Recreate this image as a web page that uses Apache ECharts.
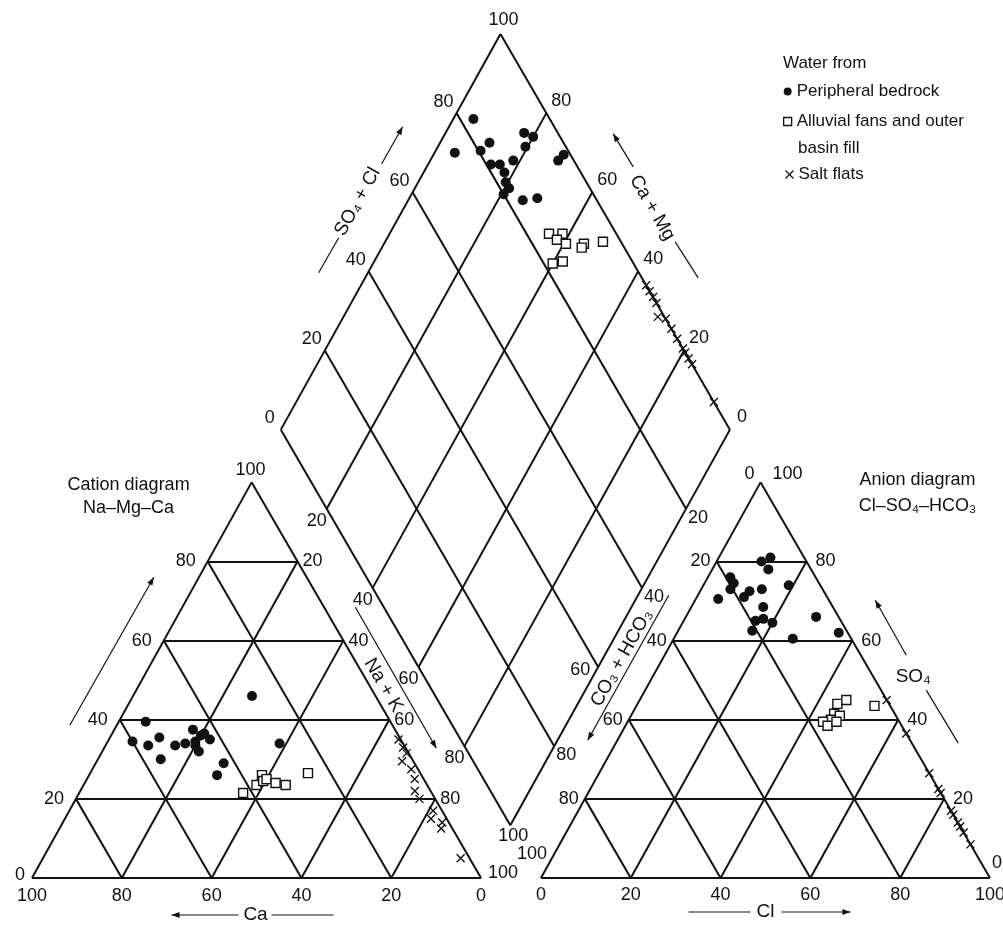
<!DOCTYPE html>
<html>
<head>
<meta charset="utf-8">
<script src="https://cdn.jsdelivr.net/npm/echarts@6/dist/echarts.min.js"></script>
<style>
  html, body { margin: 0; padding: 0; background: #fff; }
  #chart { width: 1003px; height: 926px; }
</style>
</head>
<body>
<div id="chart"></div>
<script>
// Piper diagram: cation triangle (left), anion triangle (right), combined diamond (top)
const FONT = '"Liberation Sans", Arial, Helvetica, sans-serif';
const INK = '#111111';

const BEDROCK = 'Peripheral bedrock';
const ALLUVIAL = 'Alluvial fans and outer basin fill';
const SALT = 'Salt flats';

// Cation shares, percent of total meq: [Ca, Mg, Na + K]
const bedrockCations = [
  [54.5, 39.5, 6], [60, 34.5, 5.5], [57, 33.5, 9.5], [53.5, 35.5, 11], [56, 30, 14],
  [51, 33.5, 15.5], [48.5, 34, 17.5], [45, 37.5, 17.5], [46.5, 33.5, 20], [46.5, 32, 21.5],
  [44, 36, 20], [43, 36.5, 20.5], [42.5, 35, 22.5], [46, 34.5, 19.5], [42.5, 29, 28.5],
  [45.5, 26, 28.5], [27.5, 46, 26.5], [27.5, 34, 38.5]
];
const alluvialCations = [
  [42, 21.5, 36.5], [35.5, 26, 38.5], [38, 23.5, 38.5], [36, 24.5, 39.5],
  [35, 25, 40], [33.5, 24, 42.5], [31.5, 23.5, 45], [25, 26.5, 48.5]
];
const saltCations = [
  [0.5, 35, 64.5], [0.5, 33, 66.5], [0.5, 31.5, 68], [2.5, 29.5, 68], [1.5, 27.5, 71],
  [2, 25, 73], [3.5, 22, 74.5], [3.5, 20, 76.5], [2, 17, 81], [3.5, 15, 81.5],
  [1.5, 14, 84.5], [2.5, 12.5, 85], [2, 5, 93]
];

// Anion shares, percent of total meq: [Cl, SO4, CO3 + HCO3]
const bedrockAnions = [
  [10, 80, 10], [11.5, 81, 7.5], [12.5, 78, 9.5], [5, 76, 19], [6.5, 74.5, 19],
  [6.5, 73, 20.5], [5, 70.5, 24.5], [10.5, 71, 18.5], [11, 72.5, 16.5], [13.5, 73, 13.5],
  [19, 74, 7], [16, 68.5, 15.5], [16, 65, 19], [17.5, 65.5, 17], [20, 64.5, 15.5],
  [16.5, 62.5, 21], [29, 66, 5], [26.5, 60.5, 13], [36, 62, 2]
];
const alluvialAnions = [
  [44.5, 44, 11.5], [46, 45, 9], [53, 43.5, 3.5], [45, 41.5, 13.5], [46.5, 41, 12.5],
  [45, 40, 15], [43.5, 39.5, 17], [45, 38.5, 16.5], [46.5, 39.5, 14]
];
const saltAnions = [
  [55, 45, 0], [63.5, 36.5, 0], [73.5, 26.5, 0], [77.5, 22.5, 0], [78.5, 21.5, 0],
  [83, 17, 0], [84, 16, 0], [86, 14, 0], [87, 13, 0], [88.5, 11.5, 0], [91.5, 8.5, 0]
];

// Diamond field: [Na + K, SO4 + Cl], percent
const bedrockDiamond = [
  [4.5, 83], [4.5, 74.5], [11, 83.5], [10, 80.5], [14, 81], [16, 83], [18, 83],
  [18.5, 86.5], [19.5, 82], [21, 82], [20.5, 80], [17.5, 92.5], [20, 94], [19.5, 91],
  [28.5, 96.5], [29, 98.5], [25.5, 83.5], [28.5, 87]
];
const alluvialDiamond = [
  [35.5, 85], [38.5, 88], [38, 86], [40.5, 87.5], [44.5, 91.5],
  [44.5, 90.5], [48.5, 96], [40, 82], [42, 84.5]
];
const saltDiamond = [
  [63.5, 100], [65, 100], [66.5, 100], [68, 100], [70, 98.5], [72, 100], [74.5, 100],
  [77, 100], [79.5, 100], [80.5, 100], [82, 100], [83.5, 100], [93, 100]
];

const tickValues = [0, 20, 40, 60, 80, 100];
const gridSteps = [0, 20, 40, 60, 80];

// Layout in side-percent units: each triangle is 100 wide, 100 "levels" tall
const GAP = 13.33;   // spacing between the two triangles
const LEAN = 0.011;  // slight lean of the printed frame
const SPAN = 200 + GAP;

function place(x, h) { return [x - LEAN * h, h]; }
function cationXY(ca, mg, nak) { return place(nak + mg / 2, mg); }
function anionXY(cl, so4, hco3) { return place(100 + GAP + cl + so4 / 2, so4); }
function diamondXY(nak, so4cl) {
  return place(50 + GAP / 2 + (so4cl + nak) / 2, 100 + GAP + so4cl - nak);
}

// Frame and ruling lines
const frame = [];
const seg = (a, b) => frame.push({ coords: [a, b] });
gridSteps.forEach(k => {
  seg(cationXY(100 - k, k, 0), cationXY(0, k, 100 - k));
  seg(cationXY(k, 100 - k, 0), cationXY(k, 0, 100 - k));
  seg(cationXY(100 - k, 0, k), cationXY(0, 100 - k, k));
  seg(anionXY(100 - k, k, 0), anionXY(0, k, 100 - k));
  seg(anionXY(k, 100 - k, 0), anionXY(k, 0, 100 - k));
  seg(anionXY(100 - k, 0, k), anionXY(0, 100 - k, k));
});
tickValues.forEach(k => {
  seg(diamondXY(0, k), diamondXY(100, k));
  seg(diamondXY(k, 0), diamondXY(k, 100));
});

// Scale numbers along every edge
const tickItems = [];
function tick(pt, k, align, dx, dy) {
  tickItems.push({ value: pt, label: { formatter: String(k), align: align, offset: [dx, dy] } });
}
tickValues.forEach(k => {
  // cation triangle: Mg on the left side, Ca along the base, Na + K on the right side
  if (k === 0) tick(cationXY(100, 0, 0), k, 'right', -7, -3);
  else if (k === 100) tick(cationXY(0, 100, 0), k, 'center', -1, -12);
  else tick(cationXY(100 - k, k, 0), k, 'right', -12, 0);
  tick(cationXY(k, 0, 100 - k), k, 'center', 0, 18);
  if (k === 100) tick(cationXY(0, 0, 100), k, 'left', 7, -5);
  else if (k > 0) tick(cationXY(0, 100 - k, k), k, 'left', 5, 0);

  // anion triangle: CO3 + HCO3 on the left side, Cl along the base, SO4 on the right side
  if (k === 0) tick(anionXY(0, 100, 0), k, 'right', -6, -8);
  else if (k === 100) tick(anionXY(0, 0, 100), k, 'center', -9, -24);
  else tick(anionXY(0, 100 - k, k), k, 'right', -6, 0);
  tick(anionXY(k, 0, 100 - k), k, 'center', 0, 17);
  if (k === 100) tick(anionXY(0, 100, 0), k, 'left', 12, -8);
  else if (k === 0) tick(anionXY(100, 0, 0), k, 'left', 2, -15);
  else tick(anionXY(100 - k, k, 0), k, 'left', 9, 0);

  // diamond: SO4 + Cl upper left, Ca + Mg upper right, Na + K lower left, CO3 + HCO3 lower right
  if (k === 0) tick(diamondXY(0, k), k, 'center', -11, -12);
  else if (k === 100) tick(diamondXY(0, k), k, 'center', 3, -14);
  else tick(diamondXY(0, k), k, 'right', -3, -11);
  if (k === 0) tick(diamondXY(100, 100), k, 'left', 7, -13);
  else if (k < 100) tick(diamondXY(100 - k, 100), k, 'left', 5, -12);
  if (k === 100) tick(diamondXY(k, 0), k, 'center', 3, 11);
  else if (k > 0) tick(diamondXY(k, 0), k, 'center', -10, 12);
  if (k === 60) tick(diamondXY(100, 100 - k), k, 'right', -8, 3);
  else if (k > 0 && k < 100) tick(diamondXY(100, 100 - k), k, 'left', 2, 9);
});

function samples(cat, an, dia) {
  return cat.map(r => cationXY(r[0], r[1], r[2]))
    .concat(an.map(r => anionXY(r[0], r[1], r[2])))
    .concat(dia.map(r => diamondXY(r[0], r[1])));
}

const CROSS = 'path://M0,0L10,10M10,0L0,10';
const chart = echarts.init(document.getElementById('chart'), null, { renderer: 'canvas' });

chart.setOption({
  animation: false,
  backgroundColor: '#fff',
  textStyle: { fontFamily: FONT, color: INK },
  grid: { left: 32, top: 34, width: 958, height: 844, outerBoundsMode: 'none', containLabel: false },
  xAxis: { type: 'value', min: 0, max: SPAN, show: false },
  yAxis: { type: 'value', min: 0, max: SPAN, show: false },
  legend: [
    {
      orient: 'vertical', left: 783, top: 78, padding: 0, itemGap: 3,
      itemWidth: 8, itemHeight: 8, selectedMode: false,
      textStyle: { fontSize: 17, color: INK, fontFamily: FONT, lineHeight: 27 },
      formatter: n => (n === ALLUVIAL ? 'Alluvial fans and outer' : n),
      data: [
        { name: BEDROCK, icon: 'circle', itemStyle: { color: INK, borderWidth: 0, opacity: 1 } },
        { name: ALLUVIAL, icon: 'rect', itemStyle: { color: '#fff', borderColor: INK, borderWidth: 1.3, opacity: 1 } }
      ]
    },
    {
      orient: 'vertical', left: 783, top: 161, padding: 0,
      itemWidth: 8, itemHeight: 8, selectedMode: false,
      textStyle: { fontSize: 17, color: INK, fontFamily: FONT, lineHeight: 27 },
      data: [
        { name: SALT, icon: CROSS, itemStyle: { color: 'none', borderColor: INK, borderWidth: 1.3, opacity: 1 } }
      ]
    }
  ],
  series: [
    {
      type: 'lines', coordinateSystem: 'cartesian2d', polyline: false, silent: true, clip: false,
      data: frame, z: 1,
      lineStyle: { color: INK, width: 2, opacity: 1, curveness: 0 }
    },
    {
      type: 'scatter', silent: true, clip: false, symbol: 'circle', symbolSize: 0, z: 2,
      itemStyle: { opacity: 1 },
      data: tickItems,
      label: {
        show: true, position: 'inside', verticalAlign: 'middle', fontSize: 18,
        fontFamily: FONT, color: INK, textBorderWidth: 0, opacity: 1
      }
    },
    {
      name: BEDROCK, type: 'scatter', clip: false, symbol: 'circle', symbolSize: 10, z: 5,
      itemStyle: { color: INK, opacity: 1 },
      data: samples(bedrockCations, bedrockAnions, bedrockDiamond)
    },
    {
      name: ALLUVIAL, type: 'scatter', clip: false, symbol: 'rect', symbolSize: 9, z: 5,
      itemStyle: { color: '#fff', borderColor: INK, borderWidth: 1.4, opacity: 1 },
      data: samples(alluvialCations, alluvialAnions, alluvialDiamond)
    },
    {
      name: SALT, type: 'scatter', clip: false, symbol: CROSS, symbolSize: 8, z: 5,
      itemStyle: { color: 'none', borderColor: INK, borderWidth: 1.4, opacity: 1 },
      data: samples(saltCations, saltAnions, saltDiamond)
    }
  ]
});

// Axis titles, captions and direction arrows, anchored to points of the frame
const P = pt => chart.convertToPixel({ gridIndex: 0 }, pt);
function rel(pt, dx, dy) { const p = P(pt); return [p[0] + dx, p[1] + dy]; }
function edgeAngle(a, b) { const p = P(a), q = P(b); return Math.atan2(p[1] - q[1], q[0] - p[0]); }

const els = [];
function label(pos, str, size, rot, align) {
  els.push({
    type: 'text', x: pos[0], y: pos[1], rotation: rot || 0, silent: true,
    style: {
      text: str, fontSize: size, fontFamily: FONT, fill: INK,
      align: align || 'center', textAlign: align || 'center',
      verticalAlign: 'middle', textVerticalAlign: 'middle'
    }
  });
}
function stroke(a, b, head) {
  els.push({
    type: 'line', silent: true,
    shape: { x1: a[0], y1: a[1], x2: b[0], y2: b[1] },
    style: { stroke: INK, lineWidth: 1.2 }
  });
  if (head) {
    const ang = Math.atan2(b[1] - a[1], b[0] - a[0]);
    const L = 8, W = 3;
    const bx = b[0] - L * Math.cos(ang), by = b[1] - L * Math.sin(ang);
    const nx = -Math.sin(ang) * W, ny = Math.cos(ang) * W;
    els.push({
      type: 'polygon', silent: true,
      shape: { points: [[b[0], b[1]], [bx + nx, by + ny], [bx - nx, by - ny]] },
      style: { fill: INK }
    });
  }
}

// SO4 + Cl along the upper left side of the diamond
const dUL = diamondXY(0, 50);
label(rel(dUL, -33, -30), 'SO\u2084 + Cl', 19, edgeAngle(diamondXY(0, 0), diamondXY(0, 100)));
stroke(rel(dUL, -72, 41), rel(dUL, -52, 6), false);
stroke(rel(dUL, -9, -68), rel(dUL, 12, -105), true);

// Ca + Mg along the upper right side of the diamond
const dUR = diamondXY(50, 100);
label(rel(dUR, 37, -24), 'Ca + Mg', 19, edgeAngle(diamondXY(0, 100), diamondXY(100, 100)));
stroke(rel(dUR, 18, -65), rel(dUR, -2, -98), true);
stroke(rel(dUR, 60, 10), rel(dUR, 83, 46), false);

// Na + K beside the right side of the cation triangle
const cR = cationXY(0, 50, 50);
label(rel(cR, 17, 5), 'Na + K', 19, edgeAngle(cationXY(0, 100, 0), cationXY(0, 0, 100)));
stroke(rel(cR, -11, -73), rel(cR, 70, 68), true);

// CO3 + HCO3 beside the left side of the anion triangle
const aL = anionXY(0, 50, 50);
label(rel(aL, -29, -22), 'CO\u2083 + HCO\u2083', 19, edgeAngle(anionXY(0, 0, 100), anionXY(0, 100, 0)));
stroke(rel(aL, 18, -85), rel(aL, -63, 60), true);

// SO4 beside the right side of the anion triangle
const aR = anionXY(50, 50, 0);
label(rel(aR, 38, -3), 'SO\u2084', 19);
stroke(rel(aR, 31, -25), rel(aR, 0, -80), true);
stroke(rel(aR, 51, 10), rel(aR, 83, 63), false);

// Ca under the cation base
const cB = cationXY(50, 0, 50);
label(rel(cB, -1, 37), 'Ca', 19);
stroke(rel(cB, -18, 37), rel(cB, -85, 37), true);
stroke(rel(cB, 15, 37), rel(cB, 77, 37), false);

// Cl under the anion base
const aB = anionXY(50, 0, 50);
label(rel(aB, 0, 34), 'Cl', 19);
stroke(rel(aB, -77, 34), rel(aB, -15, 34), false);
stroke(rel(aB, 16, 34), rel(aB, 85, 34), true);

// Mg direction along the left side of the cation triangle
const cL = cationXY(50, 50, 0);
stroke(rel(cL, -72, 45), rel(cL, 12, -103), true);

// Triangle captions
const cTop = cationXY(0, 100, 0);
label(rel(cTop, -123, 3), 'Cation diagram', 18);
label(rel(cTop, -123, 26), 'Na\u2013Mg\u2013Ca', 18);
const aTop = anionXY(0, 100, 0);
label(rel(aTop, 157, -2), 'Anion diagram', 18);
label(rel(aTop, 157, 24), 'Cl\u2013SO\u2084\u2013HCO\u2083', 18);

// Legend heading and continuation line
label([783, 63], 'Water from', 17, 0, 'left');
label([798, 148], 'basin fill', 17, 0, 'left');

chart.setOption({ graphic: { elements: els } });
</script>
</body>
</html>
